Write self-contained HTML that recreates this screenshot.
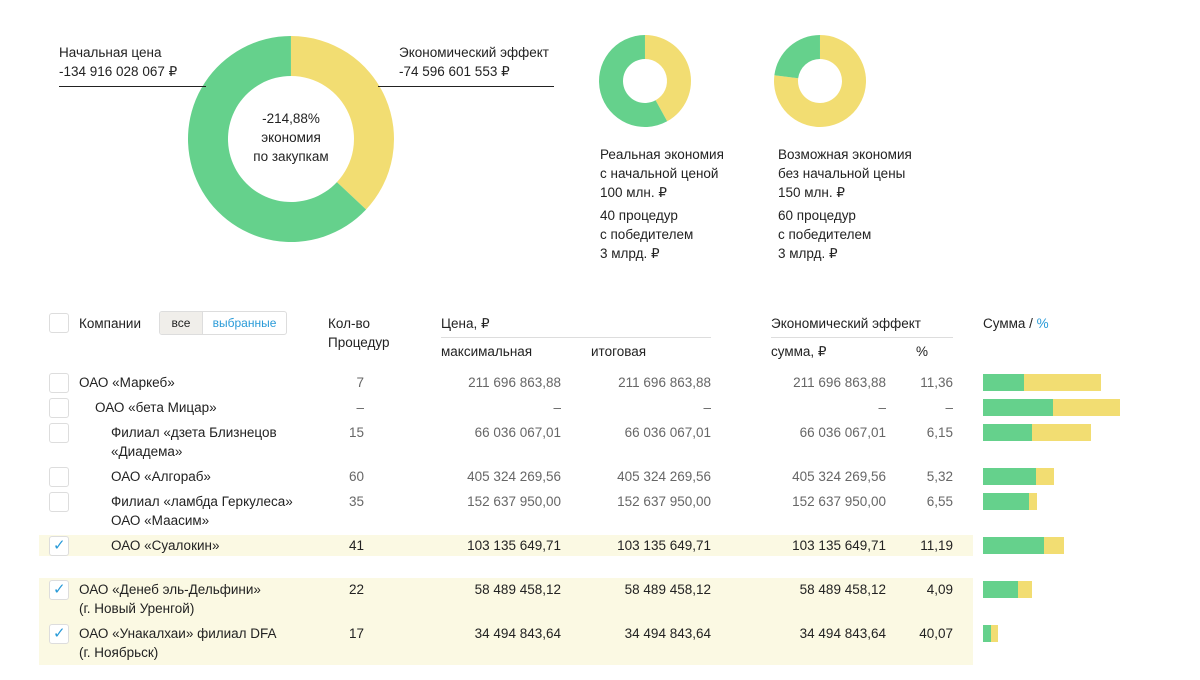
<!DOCTYPE html>
<html><head><meta charset="utf-8">
<style>
body{margin:0;width:1200px;height:680px;background:#fff;font-family:"Liberation Sans",sans-serif;font-size:13.5px;color:#222;position:relative;overflow:hidden}
.a{position:absolute;white-space:nowrap;line-height:19px}
.cb{position:absolute;width:18px;height:18px;border:1px solid #ddd;border-radius:3px;background:#fff}
.n{text-align:right}
.g{color:#666}
.hl{position:absolute;background:#fbf9e3}
</style></head><body>
<svg width="1200" height="300" style="position:absolute;left:0;top:0">
<g id="donuts"></g>
<line x1="59" y1="86.5" x2="206" y2="86.5" stroke="#222" stroke-width="1"/>
<line x1="378" y1="86.5" x2="554" y2="86.5" stroke="#222" stroke-width="1"/>
</svg>
<div class="a" style="left:59px;top:43px">Начальная цена<br>-134 916 028 067 ₽</div>
<div class="a" style="left:399px;top:43px">Экономический эффект<br>-74 596 601 553 ₽</div>
<div class="a" style="left:231px;top:109px;width:120px;text-align:center">-214,88%<br>экономия<br>по закупкам</div>
<div class="a" style="left:600px;top:145px">Реальная экономия<br>с начальной ценой<br>100 млн. ₽</div>
<div class="a" style="left:600px;top:206px">40 процедур<br>с победителем<br>3 млрд. ₽</div>
<div class="a" style="left:778px;top:145px">Возможная экономия<br>без начальной цены<br>150 млн. ₽</div>
<div class="a" style="left:778px;top:206px">60 процедур<br>с победителем<br>3 млрд. ₽</div>

<div class="hl" style="left:39px;top:535px;width:934px;height:21px"></div>
<div class="hl" style="left:39px;top:578px;width:934px;height:87px"></div>

<div class="cb" style="left:49px;top:313px"></div>
<div class="a" style="left:79px;top:314px">Компании</div>
<div style="position:absolute;left:159px;top:311px;width:126px;height:22px;border:1px solid #ddd;border-radius:3px;font-size:12px;line-height:22px;overflow:hidden">
<span style="display:inline-block;width:42px;text-align:center;background:#f0eeea;border-right:1px solid #ddd">все</span><span style="display:inline-block;width:83px;text-align:center;color:#2a9bd8">выбранные</span></div>
<div class="a" style="left:328px;top:314px">Кол-во<br>Процедур</div>
<div class="a" style="left:441px;top:314px">Цена, ₽</div>
<div style="position:absolute;left:441px;top:337px;width:270px;height:1px;background:#ddd"></div>
<div class="a" style="left:441px;top:342px">максимальная</div>
<div class="a" style="left:591px;top:342px">итоговая</div>
<div class="a" style="left:771px;top:314px">Экономический эффект</div>
<div style="position:absolute;left:771px;top:337px;width:182px;height:1px;background:#ddd"></div>
<div class="a" style="left:771px;top:342px">сумма, ₽</div>
<div class="a" style="left:916px;top:342px">%</div>
<div class="a" style="left:983px;top:314px">Сумма / <span style="color:#2a9bd8">%</span></div>

<div id="rows"></div>
<svg id="bars" width="1200" height="680" style="position:absolute;left:0;top:0"></svg>
<script>
const companies=["ОАО «Маркеб»","ОАО «бета Мицар»","Филиал «дзета Близнецов<br>«Диадема»","ОАО «Алгораб»","Филиал «ламбда Геркулеса»<br>ОАО «Маасим»","ОАО «Суалокин»","ОАО «Денеб эль-Дельфини»<br>(г. Новый Уренгой)","ОАО «Унакалхаи» филиал DFA<br>(г. Ноябрьск)"];
const counts=["7","–","15","60","35","41","22","17"];
const maxPrices=["211 696 863,88","–","66 036 067,01","405 324 269,56","152 637 950,00","103 135 649,71","58 489 458,12","34 494 843,64"];
const finalPrices=["211 696 863,88","–","66 036 067,01","405 324 269,56","152 637 950,00","103 135 649,71","58 489 458,12","34 494 843,64"];
const effectSums=["211 696 863,88","–","66 036 067,01","405 324 269,56","152 637 950,00","103 135 649,71","58 489 458,12","34 494 843,64"];
const effectPct=["11,36","–","6,15","5,32","6,55","11,19","4,09","40,07"];
const greenVals=[41,70,49,53,46,61,35,8];
const yellowVals=[77,67,59,18,8,20,14,7];
const checked=[0,0,0,0,0,1,1,1];
const indents=[79,95,111,111,111,111,79,79];
const rowTops=[373,398,423,467,492,536,580,624];
const donutShares=[0.37,0.42,0.77];
const G="#65d18c",Y="#f2dd72";
const NS="http://www.w3.org/2000/svg";
const donuts=[{cx:291,cy:139,r:103,ir:63},{cx:645,cy:81,r:46,ir:22},{cx:820,cy:81,r:46,ir:22}];
function arc(cx,cy,r,ir,a0,a1){const p=(a,rr)=>[cx+rr*Math.sin(a*2*Math.PI),cy-rr*Math.cos(a*2*Math.PI)];const l=(a1-a0)>0.5?1:0;const[x0,y0]=p(a0,r),[x1,y1]=p(a1,r),[x2,y2]=p(a1,ir),[x3,y3]=p(a0,ir);return `M${x0} ${y0}A${r} ${r} 0 ${l} 1 ${x1} ${y1}L${x2} ${y2}A${ir} ${ir} 0 ${l} 0 ${x3} ${y3}Z`;}
const dg=document.getElementById('donuts');
donuts.forEach((d,i)=>{const s=donutShares[i];
[[0,s,Y],[s,0.9999,G]].forEach(([a,b,c],k)=>{const p=document.createElementNS(NS,'path');p.setAttribute('d',arc(d.cx,d.cy,d.r,d.ir,a,b));p.setAttribute('fill',c);


dg.appendChild(p);});});
const rows=document.getElementById('rows');
companies.forEach((c,i)=>{const t=rowTops[i];const cls=checked[i]?'':' g';
let h=`<div class="cb" style="left:49px;top:${t}px">${checked[i]?'<span style="position:absolute;left:3px;top:-1px;color:#2a9bd8;font-size:15px">✓</span>':''}</div>`;
h+=`<div class="a" style="left:${indents[i]}px;top:${t}px">${c}</div>`;
h+=`<div class="a n${cls}" style="left:300px;width:64px;top:${t}px">${counts[i]}</div>`;
h+=`<div class="a n${cls}" style="left:400px;width:161px;top:${t}px">${maxPrices[i]}</div>`;
h+=`<div class="a n${cls}" style="left:550px;width:161px;top:${t}px">${finalPrices[i]}</div>`;
h+=`<div class="a n${cls}" style="left:725px;width:161px;top:${t}px">${effectSums[i]}</div>`;
h+=`<div class="a n${cls}" style="left:890px;width:63px;top:${t}px">${effectPct[i]}</div>`;
rows.insertAdjacentHTML('beforeend',h);});
const bars=document.getElementById('bars');
const x0=983,unit=1;
greenVals.forEach((g,i)=>{const y=rowTops[i]+1;
const r1=document.createElementNS(NS,'rect');r1.setAttribute('x',x0);r1.setAttribute('y',y);r1.setAttribute('width',g*unit);r1.setAttribute('height',17);r1.setAttribute('fill',G);


bars.appendChild(r1);
const r2=document.createElementNS(NS,'rect');r2.setAttribute('x',x0+g*unit);r2.setAttribute('y',y);r2.setAttribute('width',yellowVals[i]*unit);r2.setAttribute('height',17);r2.setAttribute('fill',Y);


bars.appendChild(r2);});
</script>
</body></html>
